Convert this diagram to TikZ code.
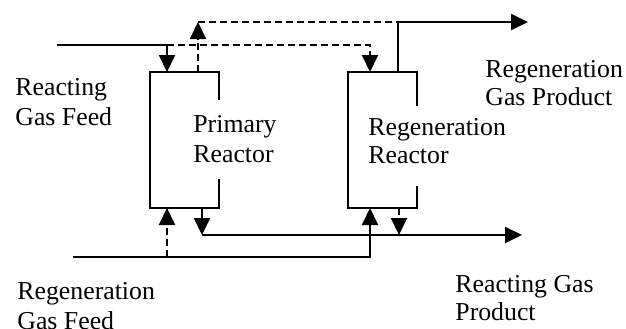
\documentclass[tikz,border=0pt]{standalone}
\usepackage{fontspec}
\setmainfont{Liberation Serif}
\usetikzlibrary{arrows.meta,calc}
\tikzset{
  flow/.style={line width=1pt},
  dflow/.style={line width=1pt,dash pattern=on 3.5pt off 2pt},
  tip/.style={-{Triangle[width=8pt,length=8.5pt]}},
  reactor/.style={minimum width=34.5pt,minimum height=68pt,inner sep=0pt,outer sep=0pt},
  lbl/.style={anchor=north west,inner sep=0pt,align=left,font=\fontsize{12.9}{15}\selectfont},
  lbltight/.style={lbl,font=\fontsize{12.9}{14}\selectfont}
}
\begin{document}
\begin{tikzpicture}[x=0.5pt,y=-0.5pt]
\useasboundingbox[fill=white] (0,0) rectangle (626,328);
% reactors
\node[reactor] (pr) at (184.5,140) {};
\node[reactor] (rr) at (382.5,140) {};
\draw[flow] (pr.north east) ++(0,28) -- (pr.north east) -- (pr.north west) -- (pr.south west) -- (pr.south east) -- ++(0,-29);
\draw[flow] (rr.north east) ++(0,34) -- (rr.north east) -- (rr.north west) -- (rr.south west) -- (rr.south east) -- ++(0,-22);
% labels
\node[lbl] (lrgf) at (15,78) {Reacting\\Gas Feed};
\node[lbl] (lpr) at (193,115) {Primary\\Reactor};
\node[lbltight] (lrr) at (368,118) {Regeneration\\Reactor};
\node[lbltight] (lrgp) at (485,60) {Regeneration\\Gas Product};
\node[lbl] (lrgfeed) at (17,282) {Regeneration\\Gas Feed};
\node[lbltight] (lrgprod) at (455,275) {Reacting Gas\\Product};
% top: reacting gas feed
\coordinate (fin) at (57,45);
\coordinate (j1) at (167,45);
\draw[flow] (fin) -- (j1);
\draw[flow,tip] (j1) -- ($(pr.north west)+(17,0)$);
\draw[dflow,tip] (j1) -| ($(rr.north west)+(22,0)$);
% top: regeneration gas product
\coordinate (pout) at (528,22);
\coordinate (j3) at (398,22);
\draw[flow,tip] ($(rr.north west)+(50,0)$) |- (pout);
\draw[dflow,tip] ($(pr.north west)+(48,0)$) -- ++(0,-50) coordinate (j2);
\draw[dflow] (j2) -- (j3);
% bottom: regeneration gas feed
\coordinate (gin) at (73,257);
\coordinate (j4) at (167,257);
\draw[flow,tip] (gin) -| ($(rr.south west)+(22,0)$);
\draw[dflow,tip] (j4) -- ($(pr.south west)+(17,0)$);
% bottom: reacting gas product
\coordinate (j5) at (202,235);
\coordinate (qout) at (522,235);
\draw[flow,tip] ($(pr.south west)+(52,0)$) -- (j5);
\draw[flow,tip] (j5) -- (qout);
\draw[dflow,tip] ($(rr.south west)+(51,0)$) -- ++(0,27);
\end{tikzpicture}
\end{document}
